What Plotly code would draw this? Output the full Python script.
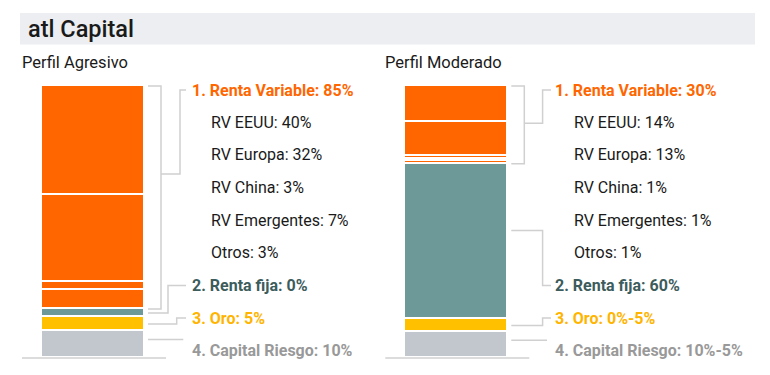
import plotly.graph_objects as go

# ---------------- data ----------------
title_text = "atl Capital"
profiles = ["Perfil Agresivo", "Perfil Moderado"]

# segment names (bottom of the bar -> top)
segments = ["Capital Riesgo", "Oro", "Renta fija", "Otros", "RV Emergentes", "RV China", "RV Europa", "RV EEUU"]
agresivo_vals = [10, 5, 3, 0, 7, 3, 32, 40]
moderado_vals = [10, 5, 60, 1, 1, 1, 13, 14]

# label texts
agresivo_main = ["1. Renta Variable: 85%", "2. Renta fija: 0%", "3. Oro: 5%", "4. Capital Riesgo: 10%"]
agresivo_sub = ["RV EEUU: 40%", "RV Europa: 32%", "RV China: 3%", "RV Emergentes: 7%", "Otros: 3%"]
moderado_main = ["1. Renta Variable: 30%", "2. Renta fija: 60%", "3. Oro: 0%-5%", "4. Capital Riesgo: 10%-5%"]
moderado_sub = ["RV EEUU: 14%", "RV Europa: 13%", "RV China: 1%", "RV Emergentes: 1%", "Otros: 1%"]

# ---------------- styles ----------------
W, H = 770, 375
ORANGE = "#ff6600"
TEAL = "#6e9999"
YELLOW = "#ffc000"
GREY = "#c2c7ce"
seg_colors = [GREY, YELLOW, TEAL, ORANGE, ORANGE, ORANGE, ORANGE, ORANGE]
main_colors = [ORANGE, "#3d5c5c", "#ffb400", "#999999"]
LINE = "#d0d0d0"
FONT = "Roboto"

BAR_W = 103
bar_x = [93.5, 456.8]
PX_PER = 2.72          # px per % of bar height
BASE_PX = 358          # baseline pixel (from top)
y_lo = -(H - BASE_PX) / PX_PER
y_hi = BASE_PX / PX_PER


def py2y(py):
    return (BASE_PX - py) / PX_PER


fig = go.Figure()

# title band
fig.add_shape(type="rect", xref="x", yref="y", x0=20, x1=755, y0=py2y(44.5), y1=py2y(13),
              fillcolor="#eceef1", line_width=0, layer="below")
fig.add_annotation(x=26, y=py2y(29), xref="x", yref="y", text=title_text, showarrow=False,
                   xanchor="left", yanchor="middle",
                   font=dict(family=FONT, size=23.5, color="#1a1a1a", weight=500))

panel_offsets = [0, 363.3]
all_vals = [agresivo_vals, moderado_vals]
all_main = [agresivo_main, moderado_main]
all_sub = [agresivo_sub, moderado_sub]
# connector settings per panel: elbow offsets from bar edge for (RV, RF, Oro), CR line end
elbows = [[35, 23, 31.7], [34.3, 34.3, 34.3]]
cr_end = [38.3, 38.7]
tick_end = [41, 42.7]
text_off = [45, 45]
# where along each group the connector leaves the bar (fraction from bottom)
rv_frac = [0.605, 0.52]
rf_frac = [0.5, 0.57]
row_py = [90, 122.3, 154.9, 187.5, 220.1, 252.7, 285.5, 318.1, 350.7]

for p in range(2):
    vals = all_vals[p]
    tot = sum(vals)
    norm = [v / tot * 100 for v in vals]
    # bars
    for name, v, c in zip(segments, norm, seg_colors):
        if v <= 0:
            continue
        fig.add_trace(go.Bar(x=[bar_x[p]], y=[v], width=BAR_W, name=name,
                             marker=dict(color=c, line=dict(color="white", width=1.6)),
                             showlegend=False, hoverinfo="skip"))
    edge = bar_x[p] + BAR_W / 2
    left = bar_x[p] - BAR_W / 2
    # cumulative boundaries
    cum = [0]
    for v in norm:
        cum.append(cum[-1] + v)
    cr = (cum[0], cum[1])
    oro = (cum[1], cum[2])
    rf = (cum[2], cum[3])
    rv = (cum[3], cum[8])
    ln = dict(color=LINE, width=1.5)
    # baseline
    fig.add_shape(type="line", x0=left - 20, x1=edge + 21, y0=0, y1=0, line=ln)
    # RV bracket
    bx0, bx1 = edge + 3, edge + 16
    fig.add_shape(type="path", path=f"M {bx0} {rv[1]} L {bx1} {rv[1]} L {bx1} {rv[0]} L {bx0} {rv[0]}", line=ln)
    ty = py2y(row_py[0])
    cy = rv[0] + (rv[1] - rv[0]) * rv_frac[p]
    ex = edge + elbows[p][0]
    fig.add_shape(type="path", path=f"M {bx1} {cy} L {ex} {cy} L {ex} {ty} L {edge + tick_end[p]} {ty}", line=ln)
    # RF connector
    ty = py2y(row_py[6])
    cy = rf[0] + (rf[1] - rf[0]) * rf_frac[p]
    ex = edge + elbows[p][1]
    fig.add_shape(type="path", path=f"M {edge + 3} {cy} L {ex} {cy} L {ex} {ty} L {edge + tick_end[p]} {ty}", line=ln)
    # Oro connector
    ty = py2y(row_py[7])
    cy = (oro[0] + oro[1]) / 2
    ex = edge + elbows[p][2]
    fig.add_shape(type="path", path=f"M {edge + 3} {cy} L {ex} {cy} L {ex} {ty} L {edge + tick_end[p]} {ty}", line=ln)
    # CR line
    cy = (cr[0] + cr[1]) / 2 + 1.8
    fig.add_shape(type="line", x0=edge + 3, x1=edge + cr_end[p], y0=cy, y1=cy, line=ln)

    # profile subtitle
    fig.add_annotation(x=20 + panel_offsets[p], y=py2y(62), text=profiles[p], showarrow=False,
                       xanchor="left", yanchor="middle",
                       font=dict(family=FONT, size=16.5, color="#1a1a1a"))
    # main labels
    tx = edge + text_off[p]
    for i, (t, c) in enumerate(zip(all_main[p], main_colors)):
        r = 0 if i == 0 else 5 + i
        fig.add_annotation(x=tx, y=py2y(row_py[r]), text=f"<b>{t}</b>", showarrow=False,
                           xanchor="left", yanchor="middle",
                           font=dict(family=FONT, size=16, color=c))
    for i, t in enumerate(all_sub[p]):
        fig.add_annotation(x=tx + 19, y=py2y(row_py[1 + i]), text=t, showarrow=False,
                           xanchor="left", yanchor="middle",
                           font=dict(family=FONT, size=16, color="#1a1a1a"))

fig.update_layout(
    width=W, height=H, margin=dict(l=0, r=0, t=0, b=0),
    barmode="stack", bargap=0,
    plot_bgcolor="white", paper_bgcolor="white",
    xaxis=dict(range=[0, W], visible=False, fixedrange=True),
    yaxis=dict(range=[y_lo, y_hi], visible=False, fixedrange=True),
    font=dict(family=FONT),
)

fig.write_html("out.html", config=dict(displayModeBar=False))
